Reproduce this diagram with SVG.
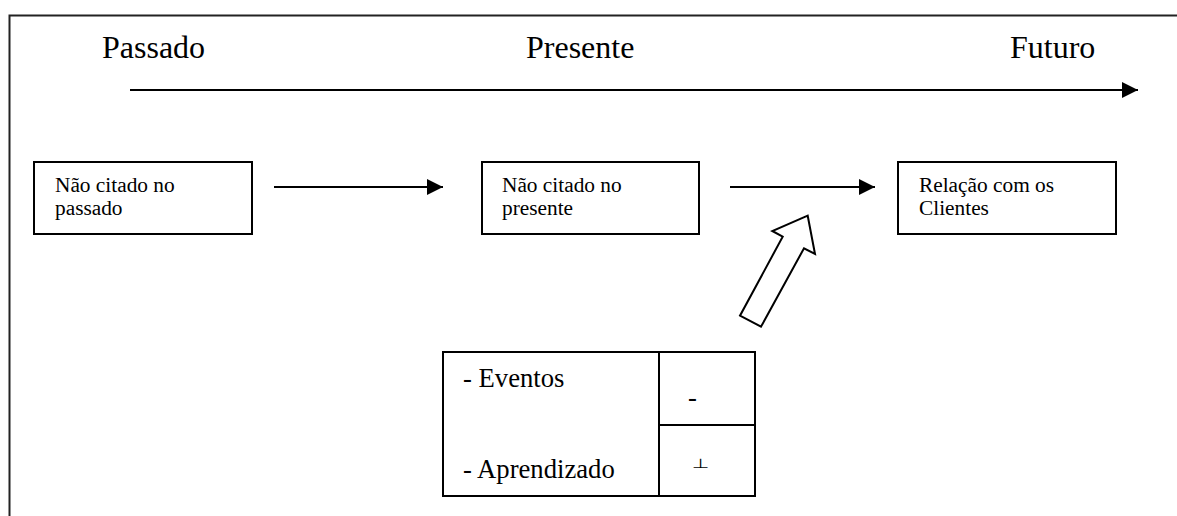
<svg xmlns="http://www.w3.org/2000/svg" width="1177" height="516" viewBox="0 0 1177 516">
<defs>
<style>
.box{fill:#fff;stroke:#000;stroke-width:2}
.line{fill:none;stroke:#000;stroke-width:2}
.big{font-family:"Liberation Serif","Times New Roman",serif;font-size:32px;fill:#000}
.mid{font-family:"Liberation Serif","Times New Roman",serif;font-size:21.33px;fill:#000}
.tab{font-family:"Liberation Serif","Times New Roman",serif;font-size:26.67px;fill:#000}
</style>
<marker id="ah" markerWidth="16" markerHeight="16" refX="16" refY="8" orient="auto" markerUnits="userSpaceOnUse">
<path d="M0,0 L16,8 L0,16 Z" fill="#000"/>
</marker>
</defs>
<rect width="1177" height="516" fill="#fff"/>
<path d="M9.5,516 V15.5 H1177" fill="none" stroke="#222" stroke-width="2"/>
<g id="labels">
<text class="big" x="102" y="58">Passado</text>
<text class="big" x="526" y="58">Presente</text>
<text class="big" x="1010" y="58">Futuro</text>
</g>
<g id="connectors">
<line class="line" x1="130" y1="90" x2="1138" y2="90" marker-end="url(#ah)"/>
<line class="line" x1="274" y1="187" x2="443" y2="187" marker-end="url(#ah)"/>
<line class="line" x1="730" y1="187" x2="875" y2="187" marker-end="url(#ah)"/>
<polygon class="box" points="807.7,215.7 772.3,231 782.7,236.7 740,315.7 761,326.7 804,248.3 815,254"/>
</g>
<g id="node-passado">
<rect class="box" x="34" y="162" width="218" height="72"/>
<text class="mid" x="55" y="192">Não citado no</text>
<text class="mid" x="55" y="215">passado</text>
</g>
<g id="node-presente">
<rect class="box" x="482" y="162" width="217" height="72"/>
<text class="mid" x="502" y="192">Não citado no</text>
<text class="mid" x="502" y="215">presente</text>
</g>
<g id="node-clientes">
<rect class="box" x="898" y="162" width="218" height="72"/>
<text class="mid" x="919" y="192">Relação com os</text>
<text class="mid" x="919" y="215">Clientes</text>
</g>
<g id="node-table">
<rect class="box" x="443" y="352" width="312" height="144"/>
<line class="line" x1="659" y1="352" x2="659" y2="496"/>
<line class="line" x1="659" y1="425" x2="755" y2="425"/>
<text class="tab" x="463" y="387">- Eventos</text>
<text class="tab" x="463" y="478">- Aprendizado</text>
<text class="tab" x="688" y="406">-</text>
<text transform="translate(700.5,467.5) scale(0.9,0.6)" x="0" y="0" text-anchor="middle" font-family="DejaVu Sans,sans-serif" font-size="22" fill="#000">⊥</text>
</g>
</svg>
